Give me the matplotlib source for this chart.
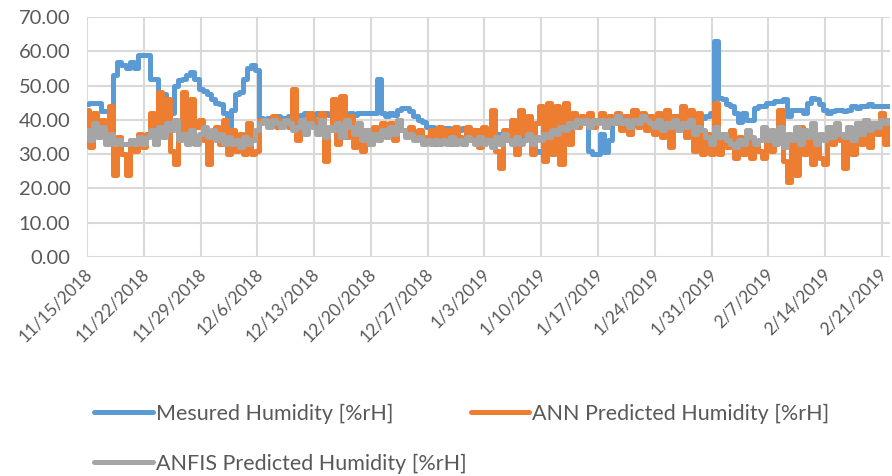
import numpy as np
import pandas as pd
import matplotlib
matplotlib.use("Agg")
import matplotlib.pyplot as plt
from matplotlib.transforms import ScaledTranslation

plt.rcParams['font.family'] = ['Lato', 'DejaVu Sans']

# half-day samples starting 11/15/2018
start = pd.Timestamp("2018-11-15")

measured = [
    44.5, 45, 45, 45, 42.5, 42.5, 43, 53, 57, 56, 55, 57, 55, 59,
    59, 59, 52, 52, 47, 47.5, 42, 42, 50, 51.5, 52, 53, 54, 52,
    49, 48.5, 47.5, 46, 45, 44.5, 42, 38, 43, 47.5, 48, 52, 55, 56,
    54.5, 40.5, 40, 40.5, 40, 41, 40.5, 40.5, 41, 40.5, 41, 41.5, 42, 42,
    41.5, 42, 41, 42, 41.5, 41, 42, 42, 41.5, 42, 41.5, 42, 42, 42,
    42, 42, 52, 42, 41, 42, 41.5, 43, 43.5, 43.5, 42.5, 41, 40, 39.5,
    38, 38, 37, 37, 37.5, 37.5, 37, 37.5, 37, 37.5, 37, 36.5, 37, 36.5,
    36.5, 36, 36.5, 36, 36, 36.5, 35.5, 36, 35.5, 36, 35, 34.5, 33, 31,
    30.5, 34, 36, 37, 37, 37.5, 38, 38.5, 39, 40, 39.5, 39, 31, 30,
    30, 36, 30.5, 34, 39, 40, 40.5, 41, 40.5, 41, 41, 41.5, 41, 40,
    40, 41, 41.5, 41, 41, 40.5, 41, 41.5, 41, 40.5, 40, 40, 40.5, 41,
    42, 63, 46.5, 46, 44.5, 44, 42, 39.5, 42, 40, 40, 43.5, 44, 44,
    45, 45, 45.5, 45.5, 46, 41, 43, 43, 43, 42, 45, 46.5, 46, 44.5,
    43, 42, 42.5, 43, 43, 42.5, 43, 44, 43.5, 44, 44, 44.5, 44, 44,
    44, 44, 44,
]

ann = [
    43, 32, 42, 38, 40, 37, 44, 24, 35, 30, 24, 34, 31, 36,
    32, 36, 42, 33, 48, 38, 46, 31, 27, 36, 48, 34, 46, 38,
    40, 34, 27, 36, 38, 33, 40, 30, 37, 31, 36, 30, 39, 30,
    31, 40, 40, 39, 41, 38, 40, 39, 38, 49, 34, 40, 38, 42,
    40, 37, 42, 28, 38, 46, 33, 47, 35, 41, 32, 38, 31, 37,
    33, 38, 35, 39, 37, 39, 34, 40, 37, 36, 38, 35, 37, 34,
    35, 37, 33, 38, 34, 37, 33, 38, 35, 33, 38, 34, 37, 32,
    38, 35, 43, 31, 26, 37, 34, 40, 30, 43, 36, 41, 30, 39,
    44, 28, 45, 30, 44, 27, 45, 33, 42, 38, 41, 40, 42, 38,
    40, 42, 38, 41, 39, 42, 37, 41, 36, 43, 38, 42, 37, 41,
    36, 42, 35, 43, 32, 41, 39, 44, 35, 43, 31, 42, 30, 36,
    30, 45, 30, 36, 32, 37, 29, 35, 30, 34, 29, 33, 31, 29,
    36, 31, 33, 43, 28, 22, 35, 24, 38, 30, 36, 27, 33, 29,
    27, 38, 33, 37, 34, 26, 38, 30, 39, 33, 40, 32, 39, 36,
    42, 33, 40,
]

anfis = [
    37, 34, 39, 35, 38, 33, 36, 33, 34, 33, 33, 34, 33, 35,
    33, 35, 37, 33, 38, 35, 39, 37, 40, 34, 36, 33, 37, 33,
    36, 38, 35, 37, 34, 36, 33, 35, 33, 34, 32, 35, 33, 34,
    37, 39, 40, 38, 40, 39, 38, 40, 39, 37, 38, 40, 36, 39,
    38, 36, 40, 35, 38, 37, 39, 35, 40, 38, 36, 39, 34, 37,
    33, 36, 34, 37, 35, 38, 36, 40, 37, 35, 36, 34, 35, 33,
    34, 33, 34, 33, 34, 33, 35, 33, 34, 33, 35, 34, 33, 35,
    33, 34, 32, 35, 33, 36, 34, 33, 35, 33, 34, 36, 33, 35,
    34, 36, 35, 37, 36, 38, 37, 39, 38, 40, 39, 40, 38, 40,
    39, 40, 38, 40, 39, 41, 39, 40, 38, 40, 39, 41, 40, 39,
    38, 40, 37, 39, 38, 40, 37, 39, 38, 40, 36, 38, 37, 35,
    33, 38, 35, 36, 34, 33, 32, 34, 33, 37, 35, 33, 34, 38,
    34, 37, 33, 38, 32, 36, 34, 38, 33, 37, 35, 39, 33, 36,
    34, 38, 35, 39, 36, 35, 38, 34, 39, 36, 40, 37, 39, 38,
    40, 39, 40,
]

tick_labels = ["11/15/2018", "11/22/2018", "11/29/2018", "12/6/2018",
               "12/13/2018", "12/20/2018", "12/27/2018", "1/3/2019",
               "1/10/2019", "1/17/2019", "1/24/2019", "1/31/2019",
               "2/7/2019", "2/14/2019", "2/21/2019"]

series_names = ["Mesured Humidity [%rH]", "ANN Predicted Humidity [%rH]",
                "ANFIS Predicted Humidity [%rH]"]
colors = ["#5B9BD5", "#ED7D31", "#A5A5A5"]

dates = pd.date_range(start, periods=len(measured), freq="12h")
tick_dates = pd.to_datetime(tick_labels, format="%m/%d/%Y")

fig = plt.figure(figsize=(8.92, 4.76), dpi=100)
ax = fig.add_axes([87 / 892, 1 - 257 / 476, (890 - 87) / 892, 240 / 476])

lines = []
for vals, name, c in zip([measured, ann, anfis], series_names, colors):
    ln, = ax.plot(dates, vals, color=c, lw=3.6, drawstyle="steps-mid",
                  solid_capstyle="round", solid_joinstyle="round", label=name)
    lines.append(ln)

ax.set_ylim(0, 70)
ax.set_yticks(np.arange(0, 71, 10))
ax.set_yticklabels([f"{v:.2f}" for v in np.arange(0, 71, 10)])
ax.set_xlim(start, start + pd.Timedelta(days=99))
ax.set_xticks(tick_dates)
ax.set_xticklabels(tick_labels, rotation=45, ha="right", rotation_mode="anchor")

ax.grid(True, color="#D9D9D9", lw=1.5)
ax.set_axisbelow(True)
for s in ax.spines.values():
    s.set_visible(False)
ax.tick_params(length=0, colors="#595959", labelsize=14.5)
ax.tick_params(axis="x", labelsize=12.5, pad=6)
ax.tick_params(axis="y", pad=12)

# pull the slanted date labels slightly left so the last one stays inside
shift = ScaledTranslation(-3 / 100, 0, fig.dpi_scale_trans)
for lbl in ax.get_xticklabels():
    lbl.set_transform(lbl.get_transform() + shift)

# column-major fill: measured / anfis in first column, ann in second
fig.legend([lines[0], lines[2], lines[1]],
           [series_names[0], series_names[2], series_names[1]],
           loc="upper left", bbox_to_anchor=(75 / 892, 1 - 384 / 476),
           ncol=2, frameon=False, fontsize=15.5, handlelength=2.7,
           handletextpad=0.15, columnspacing=0.2, labelspacing=1.4,
           labelcolor="#595959")

fig.savefig("out.png", dpi=100)
